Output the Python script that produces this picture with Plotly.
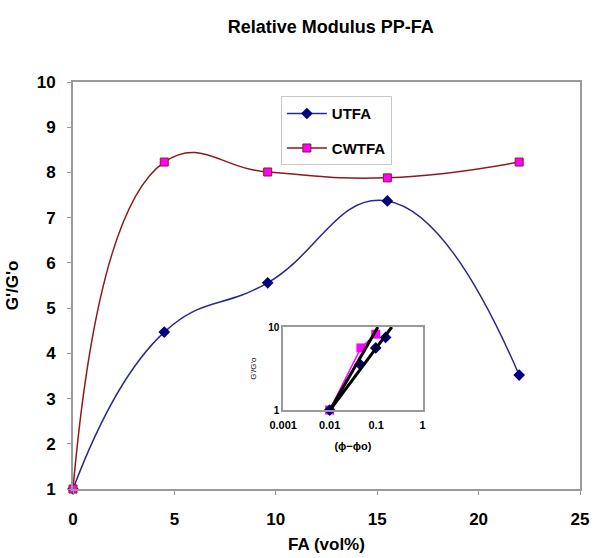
import plotly.graph_objects as go

# Main chart data
fa_vol = [0, 4.5, 9.6, 15.5, 22]
utfa = [1.0, 4.47, 5.56, 7.37, 3.52]
cwtfa = [1.0, 8.23, 8.01, 7.88, 8.23]

# Inset (log-log) data
inset_x_utfa = [0.01, 0.045, 0.098, 0.16]
inset_y_utfa = [1.0, 3.55, 5.6, 7.5]
inset_x_cwtfa = [0.01, 0.047, 0.098]
inset_y_cwtfa = [1.0, 5.6, 8.2]
fit1_x = [0.0102, 0.109]
fit1_y = [1.0, 10.0]
fit2_x = [0.0102, 0.217]
fit2_y = [1.0, 10.0]

x_ticks = [0, 5, 10, 15, 20, 25]
y_ticks = [1, 2, 3, 4, 5, 6, 7, 8, 9, 10]
inset_x_ticks = [0.001, 0.01, 0.1, 1]
inset_x_labels = ["0.001", "0.01", "0.1", "1"]
inset_y_ticks = [1, 10]
inset_y_labels = ["1", "10"]

NAVY = "#000080"
LINE_BLUE = "#2a2a8c"
DARKRED = "#8b1a1a"
MAGENTA = "#ff00ff"
GRAY = "#9a9a9a"
FONT = "Liberation Sans, Arial, sans-serif"

fig = go.Figure()

fig.add_trace(go.Scatter(
    x=fa_vol, y=utfa, name="UTFA", mode="lines+markers", legendgroup="a",
    line=dict(color=LINE_BLUE, width=1.5, shape="spline", smoothing=1.3),
    marker=dict(symbol="diamond", size=9, color=NAVY),
    cliponaxis=False,
))
fig.add_trace(go.Scatter(
    x=fa_vol, y=cwtfa, name="CWTFA", mode="lines+markers", legendgroup="b",
    line=dict(color=DARKRED, width=1.5, shape="spline", smoothing=1.3),
    marker=dict(symbol="square", size=8, color=MAGENTA, line=dict(color=DARKRED, width=1)),
    cliponaxis=False,
))

# Inset traces
fig.add_trace(go.Scatter(
    x=inset_x_cwtfa, y=inset_y_cwtfa, mode="lines+markers", showlegend=False,
    line=dict(color=MAGENTA, width=1.5),
    marker=dict(symbol="square", size=9, color=MAGENTA),
    xaxis="x2", yaxis="y2", cliponaxis=False,
))
fig.add_trace(go.Scatter(
    x=inset_x_utfa, y=inset_y_utfa, mode="markers", showlegend=False,
    marker=dict(symbol="diamond", size=9, color=NAVY),
    xaxis="x2", yaxis="y2", cliponaxis=False,
))
fig.add_trace(go.Scatter(
    x=fit1_x, y=fit1_y, mode="lines", showlegend=False,
    line=dict(color="black", width=3),
    xaxis="x2", yaxis="y2",
))
fig.add_trace(go.Scatter(
    x=fit2_x, y=fit2_y, mode="lines", showlegend=False,
    line=dict(color="black", width=3),
    xaxis="x2", yaxis="y2",
))

BOLD17 = dict(size=17, family=FONT, weight="bold", color="black")

fig.update_layout(
    width=595, height=558,
    margin=dict(l=73, r=13, t=82, b=69),
    paper_bgcolor="white", plot_bgcolor="white",
    font=dict(family=FONT, color="black"),
    title=dict(text="<b>Relative Modulus PP-FA</b>", x=0.556, xanchor="center",
               y=0.953, yanchor="middle", font=dict(size=18, weight="bold")),
    showlegend=True,
    legend=dict(x=0.41, y=0.965, xanchor="left", yanchor="top",
                bordercolor="#c8c8c8", borderwidth=1, bgcolor="white",
                font=dict(size=15, family=FONT, weight="bold"), itemwidth=40,
                tracegroupgap=12),
    xaxis=dict(
        range=[0, 25], tickvals=x_ticks, showgrid=False, zeroline=False,
        showline=True, linecolor=GRAY, linewidth=2, mirror=True,
        ticks="outside", ticklen=4, tickcolor=GRAY,
        tickfont=BOLD17, ticklabelstandoff=10, automargin=False,
        title=dict(text="<b>FA (vol%)</b>", font=dict(size=17, weight="bold"), standoff=10),
    ),
    yaxis=dict(
        range=[1, 10], tickvals=y_ticks, showgrid=False, zeroline=False,
        showline=True, linecolor=GRAY, linewidth=2, mirror=True,
        ticks="outside", ticklen=4, tickcolor=GRAY,
        tickfont=BOLD17, ticklabelstandoff=8, automargin=False,
        title=dict(text="<b>G'/G'o</b>", font=dict(size=17, weight="bold"), standoff=14),
    ),
    xaxis2=dict(
        type="log", range=[-3, 0], domain=[0.4145, 0.6896], anchor="y2",
        tickvals=inset_x_ticks, ticktext=inset_x_labels,
        showgrid=False, zeroline=False, showline=True, linecolor=GRAY, linewidth=1.5,
        mirror=True, ticks="", tickfont=dict(size=11, family=FONT, weight="bold", color="black"),
        ticklabelstandoff=4,
        title=dict(text="<b>(ϕ−ϕo)</b>", font=dict(size=11, weight="bold", color="black"), standoff=12),
    ),
    yaxis2=dict(
        type="log", range=[0, 1], domain=[0.194, 0.398], anchor="x2",
        tickvals=inset_y_ticks, ticktext=inset_y_labels,
        showgrid=False, zeroline=False, showline=True, linecolor=GRAY, linewidth=1.5,
        mirror=True, ticks="", tickfont=dict(size=10, family=FONT, weight="bold", color="black"),
        title=dict(text="G'/G'o", font=dict(size=8, color="black"), standoff=10),
    ),
)

fig.write_html("out.html")
